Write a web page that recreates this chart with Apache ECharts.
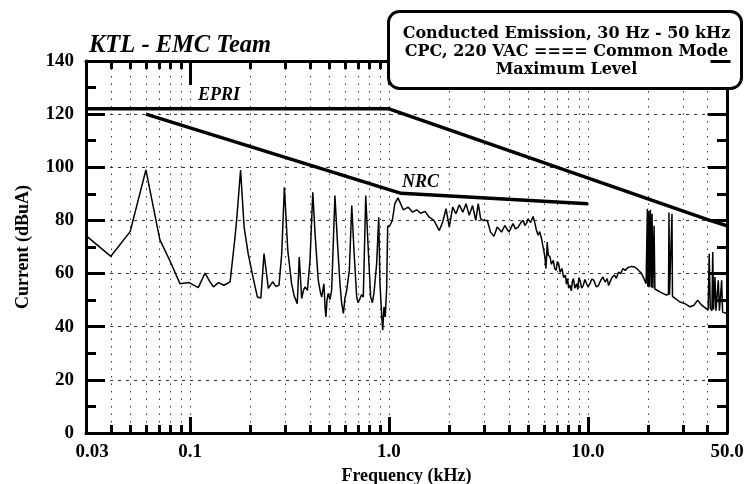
<!DOCTYPE html>
<html>
<head>
<meta charset="utf-8">
<title>Conducted Emission, 30 Hz - 50 kHz</title>
<script src="https://cdn.jsdelivr.net/npm/echarts@6/dist/echarts.min.js"></script>
<style>
  html, body { margin: 0; padding: 0; background: #fff; }
  #chart { width: 745px; height: 484px; }
</style>
</head>
<body>
<div id="chart"></div>
<script>
// Frequency axis (kHz, logarithmic)
const xLabelValues = [0.03, 0.1, 1, 10, 50];
const xTickLabels = ['0.03', '0.1', '1.0', '10.0', '50.0'];
const xMajorTicks = [0.1, 1, 10];
const xGridValues = [0.04, 0.05, 0.06, 0.07, 0.08, 0.09, 0.1,
  0.2, 0.3, 0.4, 0.5, 0.6, 0.7, 0.8, 0.9, 1,
  2, 3, 4, 5, 6, 7, 8, 9, 10, 20, 30, 40];

// Current axis (dBuA)
const yMin = 0, yMax = 140, yStep = 20;

// Limit lines [kHz, dBuA]
const epriLimit = [[0.03, 122], [1, 122], [41, 80], [50, 78]];
const nrcLimit = [[0.06, 120], [1.15, 90.2], [10, 86.3]];

// Measured common-mode current [kHz, dBuA], 30 Hz - 1 kHz (mains harmonics)
const harmonicBand = [
  [0.030, 74.3], [0.040, 66.5], [0.050, 75.8], [0.060, 99.0], [0.0705, 72.8], [0.079, 65.0],
  [0.089, 56.2], [0.099, 56.6], [0.110, 54.7], [0.119, 60.2], [0.126, 56.9], [0.131, 55.0],
  [0.139, 56.6], [0.148, 55.6], [0.159, 56.9], [0.168, 73.1], [0.172, 81.2], [0.1795, 99.0],
  [0.187, 77.5], [0.196, 67.5], [0.208, 58.1], [0.218, 51.2], [0.227, 50.8], [0.2355, 67.5],
  [0.2475, 54.4], [0.260, 56.9], [0.270, 55.2], [0.280, 55.6], [0.289, 67.5], [0.298, 92.5],
  [0.310, 68.7], [0.324, 56.2], [0.334, 51.5], [0.346, 48.7], [0.354, 66.2], [0.364, 50.6],
  [0.372, 53.8], [0.379, 55.0], [0.389, 53.7], [0.401, 65.0], [0.414, 90.6], [0.425, 75.0],
  [0.441, 57.5], [0.452, 53.0], [0.459, 51.2], [0.471, 56.2], [0.477, 47.5], [0.482, 43.7],
  [0.488, 50.0], [0.495, 52.5], [0.505, 50.2], [0.515, 53.7], [0.535, 89.4], [0.550, 72.5],
  [0.567, 56.2], [0.578, 49.0], [0.590, 45.0], [0.600, 50.5], [0.613, 53.7], [0.632, 61.2],
  [0.650, 85.6], [0.667, 68.7], [0.688, 51.2], [0.700, 49.0], [0.715, 48.7], [0.728, 52.0],
  [0.743, 51.2], [0.764, 89.4], [0.787, 68.7], [0.809, 51.2], [0.825, 49.0], [0.840, 52.5],
  [0.867, 63.7], [0.888, 81.2], [0.901, 56.2], [0.920, 43.7], [0.930, 38.7], [0.944, 47.5],
  [0.958, 43.7], [0.966, 49.5], [0.973, 53.7], [0.985, 77.7]
];

// 1 kHz - 10 kHz
const plateauBand = [
  [1.01, 78.1], [1.04, 80.0], [1.07, 86.3], [1.11, 88.5], [1.18, 84.0], [1.25, 85.0],
  [1.315, 83.1], [1.378, 84.0], [1.443, 82.7], [1.517, 83.4], [1.594, 81.2], [1.683, 80.0],
  [1.79, 76.2], [1.862, 79.4], [1.935, 84.4], [2.01, 77.5], [2.09, 85.0], [2.17, 82.5],
  [2.257, 85.9], [2.35, 83.1], [2.44, 86.3], [2.53, 81.9], [2.63, 85.6], [2.73, 80.0],
  [2.81, 86.3], [2.89, 80.6], [2.98, 80.0], [3.12, 80.0], [3.24, 75.6], [3.37, 74.0],
  [3.5, 77.5], [3.68, 75.6], [3.82, 78.1], [4.01, 75.6], [4.2, 78.8], [4.32, 76.8],
  [4.46, 77.5], [4.6, 79.2], [4.73, 80.0], [4.82, 78.1], [4.92, 79.0], [5.0, 80.6],
  [5.15, 79.2], [5.3, 81.5], [5.42, 78.8], [5.5, 76.5], [5.62, 74.4], [5.72, 75.8],
  [5.85, 73.1], [5.93, 70.5], [6.0, 68.7], [6.08, 66.0], [6.15, 61.9], [6.2, 66.5],
  [6.24, 71.9], [6.32, 67.0], [6.45, 66.2], [6.55, 63.5], [6.7, 65.0], [6.8, 62.0],
  [6.92, 61.2], [7.02, 64.5], [7.12, 63.7], [7.25, 60.5], [7.41, 61.9], [7.55, 58.5],
  [7.7, 59.4], [7.8, 56.0], [7.9, 58.1], [8.0, 54.5], [8.13, 55.6], [8.25, 53.5],
  [8.35, 57.0], [8.45, 58.1], [8.6, 54.5], [8.78, 56.2], [8.9, 54.0], [9.0, 58.5],
  [9.12, 57.5], [9.3, 54.5], [9.48, 55.6], [9.65, 57.8], [9.85, 58.1]
];

// 10 kHz - 50 kHz
const upperBand = [
  [10.0, 55.0], [10.24, 56.2], [10.45, 58.0], [10.7, 57.5], [11.0, 55.0], [11.3, 55.6],
  [11.6, 57.5], [11.9, 58.7], [12.2, 56.8], [12.5, 58.1], [12.7, 55.5], [12.9, 56.2],
  [13.2, 58.5], [13.6, 59.4], [13.9, 58.2], [14.25, 60.6], [14.6, 60.0], [15.0, 61.9],
  [15.4, 61.2], [15.9, 62.3], [16.2, 63.0], [16.6, 62.7], [17.1, 62.5], [17.6, 61.9],
  [18.1, 61.0], [18.6, 60.0], [19.1, 58.2], [19.6, 56.2], [19.8, 55.5], [19.9, 84.4],
  [20.0, 55.0], [20.2, 83.5], [20.35, 55.0], [20.6, 84.0], [20.8, 54.8], [21.0, 82.5],
  [21.2, 54.5], [21.5, 78.0], [21.7, 54.2], [22.0, 53.7], [23.0, 53.1], [24.8, 51.9],
  [25.4, 52.2], [25.55, 83.0], [25.7, 52.0], [26.3, 51.6], [26.45, 82.5], [26.6, 51.4],
  [26.8, 51.2], [29.0, 49.3], [30.7, 48.7], [32.6, 47.5], [34.1, 48.1], [35.6, 50.0],
  [37.3, 48.1], [39.2, 46.9], [40.2, 46.2], [40.7, 67.5], [41.2, 47.0], [42.0, 46.0],
  [42.4, 68.1], [42.8, 46.5], [43.5, 58.7], [44.0, 46.0], [45.2, 57.5], [45.8, 46.0],
  [47.0, 57.5], [47.5, 45.5], [48.0, 45.6], [50.0, 45.0]
];

const measured = harmonicBand.concat(plateauBand, upperBand);

const serif = "'Liberation Serif', 'DejaVu Serif', serif";
const wideSerif = "'DejaVu Serif', 'Liberation Serif', serif";
const ink = '#000';

function freqLabel(v) {
  let best = 0;
  xLabelValues.forEach((x, i) => {
    if (Math.abs(Math.log10(x) - Math.log10(v)) < Math.abs(Math.log10(xLabelValues[best]) - Math.log10(v))) best = i;
  });
  // the lowest label sits slightly right of the axis corner
  return best === 0 ? '{first|' + xTickLabels[best] + '}' : xTickLabels[best];
}

function freqAxis(position, ticks, tickLen, extra) {
  return Object.assign({
    type: 'log', logBase: 10, min: 0.03, max: 50, position: position,
    axisLine: { show: false },
    axisTick: { show: true, inside: true, length: tickLen, customValues: ticks,
      lineStyle: { color: ink, width: 3 } },
    axisLabel: { show: false },
    splitLine: { show: false },
    axisPointer: { show: false }
  }, extra || {});
}

function levelAxis(position, withLabels) {
  return {
    type: 'value', min: yMin, max: yMax, interval: yStep, position: position,
    axisLine: { show: true, lineStyle: { color: ink, width: 3 } },
    axisTick: { show: true, inside: true, length: 19, lineStyle: { color: ink, width: 3 } },
    minorTick: { show: true, splitNumber: 2, length: 10, lineStyle: { color: ink, width: 3 } },
    axisLabel: { show: withLabels, color: ink, fontFamily: serif, fontWeight: 'bold', fontSize: 19, margin: 12 },
    splitLine: { show: withLabels, lineStyle: { color: '#333', width: 1, type: [3, 5] } },
    name: withLabels ? 'Current (dBuA)' : '',
    nameLocation: 'middle', nameGap: 54,
    nameTextStyle: { color: ink, fontFamily: serif, fontWeight: 'bold', fontSize: 18 }
  };
}

const chart = echarts.init(document.getElementById('chart'), null, { renderer: 'canvas' });

const boxText = (text, y) => ({
  type: 'text', zlevel: 1, z: 21,
  style: { text: text, x: 178, y: y, align: 'center', verticalAlign: 'middle',
    textAlign: 'center', textVerticalAlign: 'middle', fill: ink, font: 'bold 16px ' + wideSerif }
});

chart.setOption({
  animation: false,
  backgroundColor: '#fff',
  grid: { left: 86, right: 18, top: 61, bottom: 51, containLabel: false, outerBoundsMode: 'none' },
  xAxis: [
    freqAxis('bottom', xMajorTicks, 16, {
      axisLine: { show: true, lineStyle: { color: ink, width: 3 } },
      axisLabel: { show: true, customValues: xLabelValues, formatter: freqLabel,
        color: ink, fontFamily: serif, fontWeight: 'bold', fontSize: 19, margin: 10,
        rich: { first: { fontFamily: serif, fontWeight: 'bold', fontSize: 19, color: ink, padding: [0, 0, 0, 12] } } },
      name: 'Frequency (kHz)', nameLocation: 'middle', nameGap: 28,
      nameTextStyle: { color: ink, fontFamily: serif, fontWeight: 'bold', fontSize: 18 }
    }),
    freqAxis('bottom', xGridValues, 8, {
      splitLine: { show: true, lineStyle: { color: '#333', width: 1, type: [1.5, 6] } }
    }),
    freqAxis('top', xMajorTicks, 24, {
      axisLine: { show: true, lineStyle: { color: ink, width: 3 } }
    }),
    freqAxis('top', xGridValues, 8)
  ],
  yAxis: [levelAxis('left', true), levelAxis('right', false)],
  series: [
    {
      name: 'Maximum Level', type: 'line', data: measured, xAxisIndex: 0, yAxisIndex: 0,
      showSymbol: false, symbol: 'none', lineStyle: { color: ink, width: 1.5 }, z: 3
    },
    {
      name: 'EPRI', type: 'line', data: epriLimit, xAxisIndex: 0, yAxisIndex: 0,
      showSymbol: false, symbol: 'none', lineStyle: { color: ink, width: 3.5 }, z: 4
    },
    {
      name: 'NRC', type: 'line', data: nrcLimit, xAxisIndex: 0, yAxisIndex: 0,
      showSymbol: false, symbol: 'none', lineStyle: { color: ink, width: 3.5 }, z: 4
    }
  ],
  graphic: [
    { type: 'text', left: 89, top: 33, z: 10,
      style: { text: 'KTL - EMC Team', fill: ink, font: 'italic bold 24.5px ' + serif } },
    { type: 'text', left: 198, top: 86, z: 10,
      style: { text: 'EPRI', fill: ink, font: 'italic bold 18px ' + serif } },
    { type: 'text', left: 402, top: 173, z: 10,
      style: { text: 'NRC', fill: ink, font: 'italic bold 18px ' + serif } },
    { type: 'group', left: 387, top: 10, zlevel: 1, z: 20, children: [
      { type: 'rect', zlevel: 1, z: 20, shape: { x: 0, y: 0, width: 353, height: 77, r: 11 },
        style: { fill: '#fff', stroke: ink, lineWidth: 3 } },
      boxText('Conducted Emission, 30 Hz - 50 kHz', 22),
      boxText('CPC, 220 VAC ==== Common Mode', 40),
      boxText('Maximum Level', 58),
      { type: 'line', zlevel: 1, z: 21, shape: { x1: 322, y1: 50, x2: 342, y2: 50 },
        style: { stroke: ink, lineWidth: 3 } }
    ] }
  ]
});
</script>
</body>
</html>
